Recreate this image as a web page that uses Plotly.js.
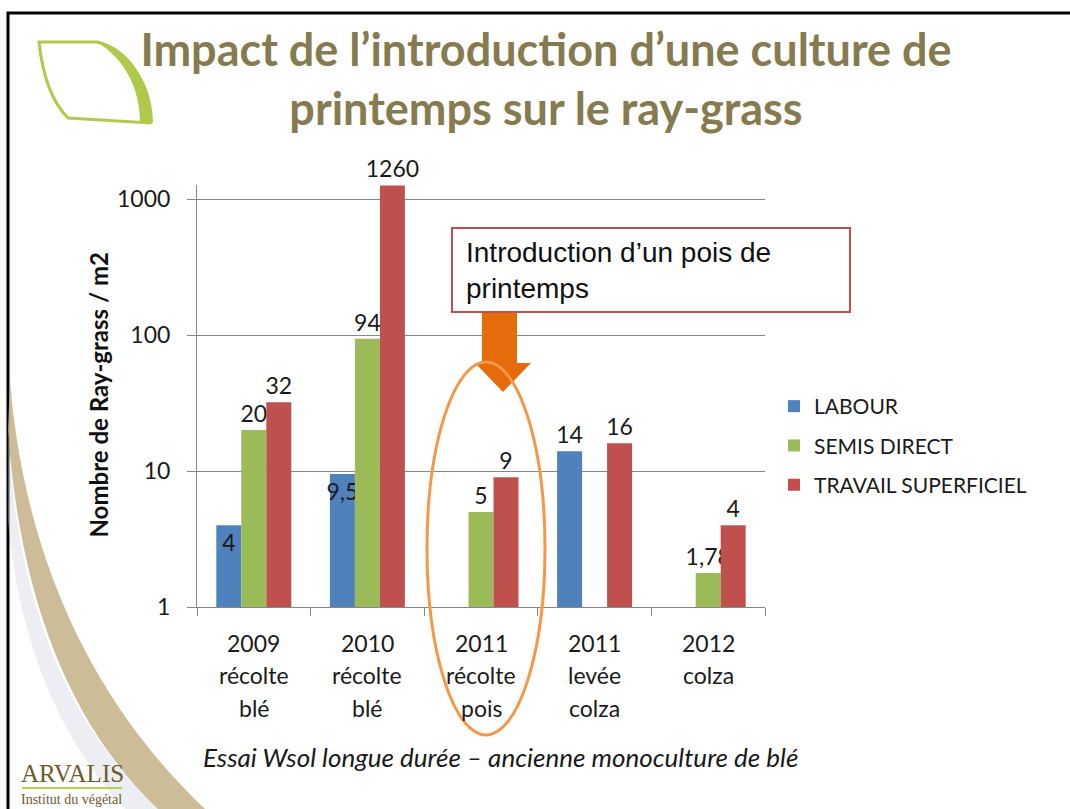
<!DOCTYPE html>
<html>
<head>
<meta charset="utf-8">
<script src="https://cdn.plot.ly/plotly-3.0.1.min.js"></script>
<style>html,body{margin:0;padding:0;background:#fff;}#chart{width:1070px;height:809px;}</style>
</head>
<body>
<div id="chart"></div>
<script>
// ---- data ----
const catLine1 = ['2009', '2010', '2011', '2011', '2012'];
const catLine2 = ['récolte', 'récolte', 'récolte', 'levée', 'colza'];
const catLine3 = ['blé', 'blé', 'pois', 'colza', ''];
const seriesNames = ['LABOUR', 'SEMIS DIRECT', 'TRAVAIL SUPERFICIEL'];
const labour = [4, 9.5, null, 14, null];
const semisDirect = [20, 94, 5, null, 1.78];
const travailSuperficiel = [32, 1260, 9, 16, 4];
const yTickVals = [1, 10, 100, 1000];
const yTickText = ['1', '10', '100', '1000'];
const chartTitle = 'Impact de l’introduction d’une culture de<br>printemps sur le ray-grass';
const yTitle = 'Nombre de Ray-grass / m2';
const boxText = 'Introduction d’un pois de<br>printemps';
const footnote = 'Essai Wsol longue durée – ancienne monoculture de blé';

// ---- geometry helpers (pixel -> paper) ----
const L = 197, R = 765, T = 185, B = 607;
const px = x => (x - L) / (R - L);
const py = y => (B - y) / (B - T);
function P(s) {
  const tok = s.trim().split(/\s+/);
  let isX = true, out = [];
  for (const t of tok) {
    if (/^[A-Za-z]$/.test(t)) { out.push(t); isX = true; }
    else { const v = parseFloat(t); out.push((isX ? px(v) : py(v)).toFixed(5)); isX = !isX; }
  }
  return out.join(' ');
}

const cats = catLine1.map((c, i) => [c, catLine2[i], catLine3[i]].join(' ').trim());
const fmt = v => v == null ? '' : String(v).replace('.', ',');
const colors = ['#4F81BD', '#9BBB59', '#C0504D'];
const series = [labour, semisDirect, travailSuperficiel];
const positions = [
  ['inside', 'inside', 'outside', 'outside', 'outside'],
  'outside',
  'outside'
];
const FONT = 'Lato, "Open Sans", sans-serif';

const traces = series.map((vals, k) => ({
  type: 'bar',
  name: seriesNames[k],
  x: cats,
  y: vals,
  text: vals.map(fmt),
  textposition: positions[k],
  insidetextanchor: 'end',
  constraintext: 'none',
  textangle: 0,
  textfont: {family: FONT, size: 23, color: '#1a1a1a'},
  insidetextfont: {family: FONT, size: 23, color: '#1a1a1a'},
  outsidetextfont: {family: FONT, size: 23, color: '#1a1a1a'},
  cliponaxis: false,
  marker: {color: colors[k], line: {width: 0}},
  legendgroup: 'g' + k,
  hoverinfo: 'x+y+name'
}));

const annotations = [];
// category labels (three lines)
[catLine1, catLine2, catLine3].forEach((arr, li) => {
  const yy = [643, 675, 708][li];
  arr.forEach((t, i) => {
    if (!t) return;
    annotations.push({xref: 'x', yref: 'paper', x: cats[i], y: py(yy), text: t, showarrow: false,
      xanchor: 'center', yanchor: 'middle', font: {family: FONT, size: 23, color: '#1a1a1a'}});
  });
});
// y axis title
annotations.push({xref: 'paper', yref: 'paper', x: px(97.5), y: py(395), text: yTitle, textangle: -90,
  showarrow: false, xanchor: 'center', yanchor: 'middle',
  font: {family: FONT, size: 24, color: '#111', weight: 700}});
// callout text
annotations.push({xref: 'paper', yref: 'paper', x: px(464), y: py(270), text: boxText, align: 'left',
  showarrow: false, xanchor: 'left', yanchor: 'middle',
  font: {family: '"Liberation Sans", Arial, sans-serif', size: 28, color: '#111'}});
// footnote
annotations.push({xref: 'paper', yref: 'paper', x: px(201), y: py(757), text: footnote,
  showarrow: false, xanchor: 'left', yanchor: 'middle',
  font: {family: FONT, size: 26, color: '#1a1a1a', style: 'italic'}});
// logo
annotations.push({xref: 'paper', yref: 'paper', x: px(19), y: py(773), text: 'ARVALIS',
  showarrow: false, xanchor: 'left', yanchor: 'middle',
  font: {family: '"Liberation Serif", "DejaVu Serif", serif', size: 25, color: '#6E5B2E'}});
annotations.push({xref: 'paper', yref: 'paper', x: px(19), y: py(799), text: 'Institut du végétal',
  showarrow: false, xanchor: 'left', yanchor: 'middle',
  font: {family: '"Liberation Serif", "DejaVu Serif", serif', size: 14, color: '#6E5B2E'}});

const shapes = [
  // slide border (top + left)
  {type: 'rect', xref: 'paper', yref: 'paper', x0: px(8), x1: px(1080), y0: py(820), y1: py(13),
    line: {color: '#000', width: 3}, fillcolor: 'rgba(0,0,0,0)', layer: 'below'},
  // swoosh shadow + tan band
  {type: 'path', xref: 'paper', yref: 'paper', layer: 'below',
    path: P('M 8 430 C 16 590 60 720 160 809 L 125 809 C 50 730 16 620 8 520 Z'),
    fillcolor: 'rgba(210,212,226,0.4)', line: {width: 0}},
  {type: 'path', xref: 'paper', yref: 'paper', layer: 'below',
    path: P('M 10 380 C 24 560 95 705 205 809 L 158 809 C 70 725 20 600 8 430 Z'),
    fillcolor: 'rgba(196,176,134,0.85)', line: {width: 0}},
  // leaf
  {type: 'path', xref: 'paper', yref: 'paper', layer: 'above',
    path: P('M 39 42 L 97 42 C 130 50 150 85 150 123 L 68 118 C 50 100 42 70 39 42 Z'),
    fillcolor: 'rgba(0,0,0,0)', line: {color: '#AFC94A', width: 3}},
  {type: 'path', xref: 'paper', yref: 'paper', layer: 'above',
    path: P('M 97 42 C 134 52 153 88 153 123 L 140 122 C 140 90 126 60 97 42 Z'),
    fillcolor: '#AFC94A', line: {width: 0}},
  // logo underline
  {type: 'line', xref: 'paper', yref: 'paper', x0: px(22), x1: px(122), y0: py(788), y1: py(788),
    line: {color: '#B8D24A', width: 2}},
  // callout box
  {type: 'rect', xref: 'paper', yref: 'paper', x0: px(452), x1: px(850), y0: py(312), y1: py(228),
    line: {color: '#C0504D', width: 2}, fillcolor: '#ffffff', layer: 'above'},
  // arrow
  {type: 'path', xref: 'paper', yref: 'paper', layer: 'above',
    path: P('M 482 313 L 517 313 L 517 363 L 531 363 L 503 392 L 475 363 L 482 363 Z'),
    fillcolor: '#E46C0A', line: {width: 0}},
  // ellipse
  {type: 'circle', xref: 'paper', yref: 'paper', x0: px(427), x1: px(545), y0: py(735), y1: py(362),
    line: {color: '#F79646', width: 3}, fillcolor: 'rgba(0,0,0,0)', layer: 'above'}
];

const layout = {
  width: 1070, height: 809,
  margin: {l: L, r: 1070 - R, t: T, b: 809 - B, pad: 0, autoexpand: false},
  paper_bgcolor: '#ffffff', plot_bgcolor: 'rgba(0,0,0,0)',
  title: {text: chartTitle, x: 546 / 1070, xanchor: 'center', xref: 'container', yref: 'container',
    y: 1 - 66 / 809, yanchor: 'middle',
    font: {family: FONT, size: 45, color: '#857B4E', weight: 700}},
  barmode: 'group', bargap: 0.34, bargroupgap: 0,
  xaxis: {type: 'category', showline: true, linecolor: '#868686', linewidth: 1,
    ticks: 'outside', tickson: 'boundaries', ticklen: 8, tickcolor: '#868686',
    showticklabels: false, showgrid: false, zeroline: false, fixedrange: true},
  yaxis: {type: 'log', range: [0, 3.1034], tickvals: yTickVals, ticktext: yTickText,
    showline: true, linecolor: '#868686', linewidth: 1, ticks: 'outside', ticklen: 9,
    tickcolor: '#868686', gridcolor: '#878787', gridwidth: 1, zeroline: false,
    ticklabelstandoff: 12,
    tickfont: {family: FONT, size: 23, color: '#1a1a1a'}, fixedrange: true},
  showlegend: true,
  legend: {x: px(774), y: py(386), xanchor: 'left', yanchor: 'top', xref: 'paper', yref: 'paper',
    font: {family: FONT, size: 21, color: '#1a1a1a'}, tracegroupgap: 9, traceorder: 'grouped',
    bgcolor: 'rgba(0,0,0,0)', itemwidth: 30},
  annotations: annotations,
  shapes: shapes
};

Plotly.newPlot('chart', traces, layout, {displayModeBar: false, responsive: false});
</script>
</body>
</html>
